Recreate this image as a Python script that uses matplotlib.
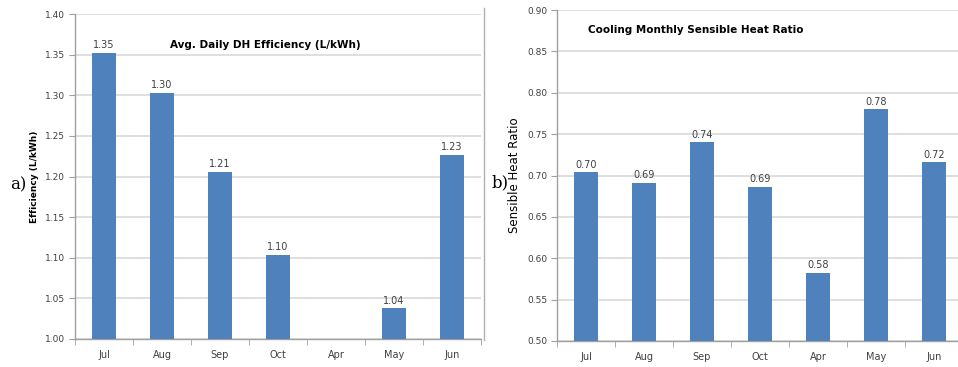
import matplotlib.pyplot as plt
import numpy as np

months = ["Jul", "Aug", "Sep", "Oct", "Apr", "May", "Jun"]
dh_eff = [1.352, 1.303, 1.206, 1.104, np.nan, 1.038, 1.227]
shr = [0.704, 0.691, 0.740, 0.686, 0.582, 0.780, 0.716]

bar_col = "#4F81BD"
grid_col = "#d9d9d9"
txt_col = "#404040"


def bar_panel(ax, vals, ylim, step, title, title_xy, ylabel, ylabel_kw):
    x = np.arange(len(months))
    ax.bar(x, vals, width=0.4, color=bar_col, zorder=3)
    for xi, v in zip(x, vals):
        if np.isnan(v):
            continue
        ax.text(xi, v + (ylim[1] - ylim[0]) * 0.008, "%.2f" % v, ha="center", va="bottom",
                fontsize=7, color=txt_col)
    ax.set_ylim(*ylim)
    ax.set_xlim(-0.5, len(months) - 0.5)
    ax.set_yticks(np.arange(ylim[0], ylim[1] + step / 2, step))
    ax.set_yticklabels(["%.2f" % t for t in ax.get_yticks()], fontsize=6.5, color=txt_col)
    ax.set_xticks(x)
    ax.set_xticklabels(months, fontsize=7, color=txt_col)
    ax.set_xticks(np.arange(-0.5, len(months), 1), minor=True)
    ax.tick_params(axis="x", which="major", length=0, pad=8)
    ax.tick_params(axis="x", which="minor", length=4, color="#a0a0a0")
    ax.tick_params(axis="y", length=4, color="#a0a0a0", pad=3)
    ax.grid(axis="y", color=grid_col, lw=1.2, zorder=0)
    for s in ["top", "right"]:
        ax.spines[s].set_visible(False)
    for s in ["left", "bottom"]:
        ax.spines[s].set_color("#a0a0a0")
        ax.spines[s].set_linewidth(1.0)
    ax.text(title_xy[0], title_xy[1], title, transform=ax.transAxes, fontsize=7.5,
            fontweight="bold", color="black", ha="left", va="center")
    ax.set_ylabel(ylabel, **ylabel_kw)
    ax.yaxis.set_label_coords(-0.088, 0.5)


fig = plt.figure(figsize=(9.58, 3.67), dpi=100)
W, H = 958, 367

ax1 = fig.add_axes([75 / W, 1 - 339 / H, 406 / W, (339 - 14) / H])
bar_panel(ax1, dh_eff, (1.0, 1.4), 0.05, "Avg. Daily DH Efficiency (L/kWh)", (0.234, 0.905),
          "Efficiency (L/kWh)", dict(fontsize=6.5, fontweight="bold"))

ax2 = fig.add_axes([557 / W, 1 - 341 / H, 406 / W, (341 - 10) / H])
bar_panel(ax2, shr, (0.5, 0.9), 0.05, "Cooling Monthly Sensible Heat Ratio", (0.076, 0.94),
          "Sensible Heat Ratio", dict(fontsize=8.5))

# box line at right edge of the left chart
fig.add_artist(plt.Line2D([484 / W, 484 / W], [1 - 340 / H, 1 - 8 / H], color="#b0b0b0", lw=1))

fig.text(10 / W, 1 - 185 / H, "a)", fontsize=12, family="DejaVu Serif", va="center")
fig.text(492 / W, 1 - 183 / H, "b)", fontsize=12, family="DejaVu Serif", va="center")

fig.savefig("out.png", dpi=100)
